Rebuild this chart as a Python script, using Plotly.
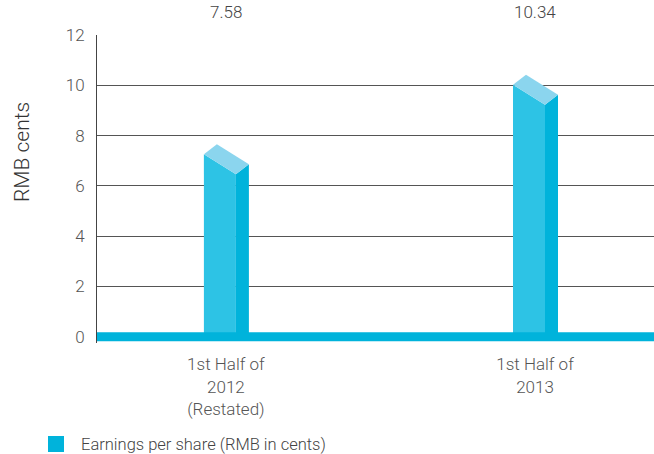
import plotly.graph_objects as go

# ---- data ----
categories = ["1st Half of<br>2012<br>(Restated)", "1st Half of<br>2013"]
value_labels = ["7.58", "10.34"]
eps_values = [7.58, 10.34]
y_ticks = [0, 2, 4, 6, 8, 10, 12]
legend_label = "Earnings per share (RMB in cents)"
y_title = "RMB cents"

# ---- style ----
W, H = 654, 454
M_L, M_R, M_T, M_B = 97, 0, 35, 111
X_RANGE = [-0.417, 1.385]
Y_RANGE = [-0.25, 12]
plot_w = W - M_L - M_R
plot_h = H - M_T - M_B
px_x = plot_w / (X_RANGE[1] - X_RANGE[0])   # px per x unit
px_y = plot_h / (Y_RANGE[1] - Y_RANGE[0])   # px per y unit

C_FRONT = "#2DC3E5"
C_SIDE = "#00B3DB"
C_TOP = "#8BD5EE"
C_BASE = "#00B3DB"
TXT = "#555555"
FONT = "Roboto"

# bar geometry in pixels (relative to category centre / value)
FL, FR, SR = -22, 10, 23          # front-left, front-right, side-right x offsets
PK = FL + 13                      # top peak x offset
D_FL, D_FR, D_SR = 10, 30, 20     # drop (px) below peak for corners
PEAK_UP = 2                        # px above value

fig = go.Figure()

def dx(p):
    return p / px_x

def dy(p):
    return p / px_y

for i, v in enumerate(eps_values):
    c = i
    peak = v + dy(PEAK_UP)
    xfl, xfr, xsr, xpk = c + dx(FL), c + dx(FR), c + dx(SR), c + dx(PK)
    yfl, yfr, ysr = peak - dy(D_FL), peak - dy(D_FR), peak - dy(D_SR)
    # front face
    fig.add_trace(go.Scatter(x=[xfl, xfr, xfr, xfl, xfl], y=[yfl, yfr, 0, 0, yfl],
                             fill="toself", fillcolor=C_FRONT, mode="lines",
                             line=dict(width=0, color=C_FRONT), hoverinfo="skip", showlegend=False))
    # side face
    fig.add_trace(go.Scatter(x=[xfr, xsr, xsr, xfr, xfr], y=[yfr, ysr, 0, 0, yfr],
                             fill="toself", fillcolor=C_SIDE, mode="lines",
                             line=dict(width=0, color=C_SIDE), hoverinfo="skip", showlegend=False))
    # top face
    fig.add_trace(go.Scatter(x=[xfl, xpk, xsr, xfr, xfl], y=[yfl, peak, ysr, yfr, yfl],
                             fill="toself", fillcolor=C_TOP, mode="lines",
                             line=dict(width=0, color=C_TOP), hoverinfo="skip", showlegend=False))
    # value label above the plot
    fig.add_annotation(x=c, xref="x", y=1 + 23 / plot_h, yref="paper", text=value_labels[i],
                       showarrow=False, font=dict(size=17, color="#444444", family=FONT),
                       xanchor="center", yanchor="middle")

# thick baseline
fig.add_shape(type="rect", xref="paper", yref="y", x0=0, x1=1, y0=-0.18, y1=0.18,
              fillcolor=C_BASE, line=dict(width=0), layer="above")

# y title
fig.add_annotation(x=(22 - M_L) / plot_w, xref="paper", y=(H - M_B - 152) / plot_h, yref="paper",
                   text=y_title, textangle=-90, showarrow=False,
                   xanchor="center", yanchor="middle",
                   font=dict(size=21, color="#333333", family=FONT))

# legend
fig.add_shape(type="rect", xref="paper", yref="paper",
              x0=(48 - M_L) / plot_w, x1=(64 - M_L) / plot_w,
              y0=(H - M_B - 452) / plot_h, y1=(H - M_B - 436) / plot_h,
              fillcolor=C_BASE, line=dict(width=0))
fig.add_annotation(x=(79 - M_L) / plot_w, xref="paper", y=(H - M_B - 444) / plot_h, yref="paper",
                   text=legend_label, showarrow=False, xanchor="left", yanchor="middle",
                   font=dict(size=16.5, color="#444444", family=FONT))

fig.update_layout(
    width=W, height=H,
    margin=dict(l=M_L, r=M_R, t=M_T, b=M_B),
    paper_bgcolor="white", plot_bgcolor="white",
    font=dict(family=FONT, color=TXT, weight=300),
    showlegend=False,
    xaxis=dict(range=X_RANGE, tickvals=[0, 1], ticktext=categories, showgrid=False,
               zeroline=False, showline=False, ticks="outside", ticklen=6,
               tickcolor="rgba(0,0,0,0)", tickfont=dict(size=17, color=TXT, family=FONT),
               fixedrange=True),
    yaxis=dict(range=Y_RANGE, tickvals=y_ticks, showgrid=True, gridcolor="#555555",
               gridwidth=1, zeroline=False, showline=True, linecolor="#444444", linewidth=1,
               ticks="outside", ticklen=8, tickcolor="rgba(0,0,0,0)",
               tickfont=dict(size=17, color=TXT, family=FONT), fixedrange=True),
)

fig.write_html("out.html", config={"displayModeBar": False})
